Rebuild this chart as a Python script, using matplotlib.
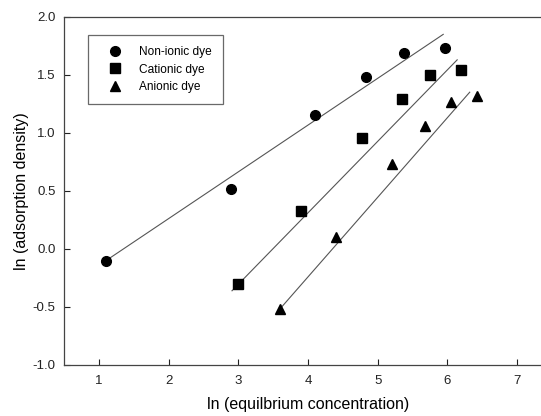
import matplotlib
matplotlib.use("Agg")
import matplotlib.pyplot as plt
import numpy as np

plt.rcParams['font.family'] = ['Liberation Sans', 'DejaVu Sans']

nonionic_x = [1.1, 2.9, 4.1, 4.83, 5.38, 5.97]
nonionic_y = [-0.1, 0.52, 1.15, 1.48, 1.69, 1.73]
cationic_x = [3.0, 3.9, 4.78, 5.35, 5.75, 6.2]
cationic_y = [-0.3, 0.33, 0.96, 1.29, 1.50, 1.54]
anionic_x = [3.6, 4.4, 5.2, 5.68, 6.05, 6.42]
anionic_y = [-0.52, 0.1, 0.73, 1.06, 1.27, 1.32]

# fitted lines: (x start, x end, slope, intercept)
nonionic_fit = [1.13, 5.94, 0.403, -0.545]
cationic_fit = [2.91, 6.14, 0.616, -2.153]
anionic_fit = [3.55, 6.32, 0.686, -2.985]

fig = plt.figure(figsize=(5.41, 4.16), dpi=100)
ax = fig.add_axes([0.1183, 0.1226, 0.902, 0.837])

for fit in (nonionic_fit, cationic_fit, anionic_fit):
    xs = np.array(fit[:2])
    ax.plot(xs, fit[2] * xs + fit[3], color='#555555', lw=0.8, zorder=2)

ax.plot(nonionic_x, nonionic_y, 'o', color='black', ms=7, label='Non-ionic dye', zorder=3)
ax.plot(cationic_x, cationic_y, 's', color='black', ms=6.5, label='Cationic dye', zorder=3)
ax.plot(anionic_x, anionic_y, '^', color='black', ms=7, label='Anionic dye', zorder=3)

ax.set_xlim(0.5, 7.5)
ax.set_ylim(-1.0, 2.0)
ax.set_xticks([1, 2, 3, 4, 5, 6, 7])
ax.set_yticks([-1.0, -0.5, 0.0, 0.5, 1.0, 1.5, 2.0])
ax.set_yticklabels(['-1.0', '-0.5', '0.0', '0.5', '1.0', '1.5', '2.0'])
ax.tick_params(direction='in', length=4, width=0.8, labelsize=9.5, colors='#222222', pad=6)
ax.tick_params(axis='x', pad=7)
for s in ax.spines.values():
    s.set_color('#444444')
    s.set_linewidth(0.9)

ax.set_xlabel('ln (equilbrium concentration)', fontsize=11.5, labelpad=7.5)
ax.set_ylabel('ln (adsorption density)', fontsize=11.5, labelpad=2.5)

leg = ax.legend(loc='upper left', bbox_to_anchor=(0.049, 0.948), fontsize=8.6,
                frameon=True, fancybox=False, edgecolor='#444444',
                handletextpad=0.7, borderpad=0.95, labelspacing=0.45,
                handlelength=2.6, borderaxespad=0)
leg.get_frame().set_linewidth(0.9)

fig.savefig('out.png', dpi=100)
